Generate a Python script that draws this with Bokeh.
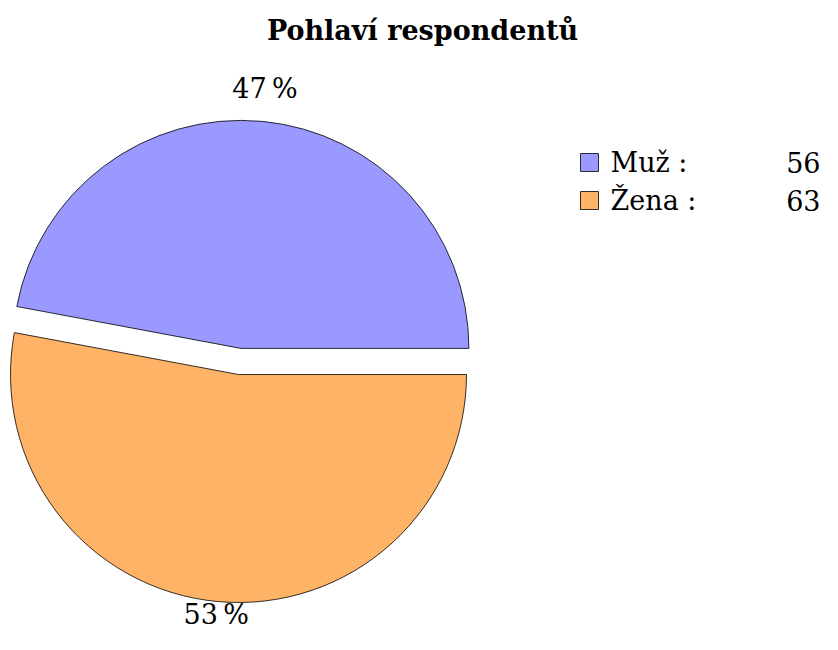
import numpy as np
from bokeh.plotting import figure
from bokeh.models import Range1d, ColumnDataSource
from bokeh.core.properties import value
from bokeh.embed import file_html
from bokeh.resources import INLINE

title_text = "Pohlaví respondentů"
categories = ["Muž", "Žena"]
counts = [56, 63]
colors = ["#9999FF", "#FFB366"]
explode = [0.115, 0.0]

W, H = 822, 634
OX, OY = 238, 374  # pie centre in picture pixels
p = figure(width=W, height=H, output_backend="svg", toolbar_location=None,
           x_range=Range1d(-OX, W - OX), y_range=Range1d(OY - H, OY),
           min_border=0, outline_line_color=None)
p.axis.visible = False
p.grid.visible = False
p.background_fill_color = "white"
p.border_fill_color = "white"

R = 228
FONT = "DejaVu Serif"
total = sum(counts)
fracs = [c / total for c in counts]
starts, ends = [], []
acc = 0.0
for f in fracs:
    starts.append(acc * 2 * np.pi)
    acc += f
    ends.append(acc * 2 * np.pi)
mids = [(s + e) / 2 for s, e in zip(starts, ends)]
cx = [ex * R * np.cos(m) for ex, m in zip(explode, mids)]
cy = [ex * R * np.sin(m) for ex, m in zip(explode, mids)]

src = ColumnDataSource(dict(x=cx, y=cy, start=starts, end=ends, color=colors))
p.wedge(x="x", y="y", radius=R, start_angle="start", end_angle="end",
        fill_color="color", line_color="black", line_width=0.8, source=src)

# percentage labels
lab_r = [1.145 * R, 1.055 * R]
lx = [x + r * np.cos(m) for x, r, m in zip(cx, lab_r, mids)]
ly = [y + r * np.sin(m) for y, r, m in zip(cy, lab_r, mids)]
labels = [f"{round(f * 100)}\u2009%" for f in fracs]
p.text(x=lx, y=ly, text=labels, text_font=value(FONT), text_font_size="27px",
       text_align="center", text_baseline="middle", text_color="black")

# title
p.text(x=[422 - OX], y=[OY - 30], text=[title_text], text_font=value(FONT),
       text_font_size="27px", text_font_style="bold", text_align="center",
       text_baseline="middle", text_color="black")

# legend
leg_y = [OY - 162, OY - 200]
n = len(categories)
p.scatter(x=[589 - OX] * n, y=leg_y, marker="square", size=18, fill_color=colors,
          line_color="black", line_width=0.8)
p.text(x=[610 - OX] * n, y=leg_y,
       text=[f"{c} :" for c in categories], text_font=value(FONT),
       text_font_size="27px", text_align="left", text_baseline="middle",
       text_color="black")
p.text(x=[820 - OX] * n, y=leg_y,
       text=[str(c) for c in counts], text_font=value(FONT),
       text_font_size="27px", text_align="right", text_baseline="middle",
       text_color="black")

open("out.html", "w").write(file_html(p, INLINE))
